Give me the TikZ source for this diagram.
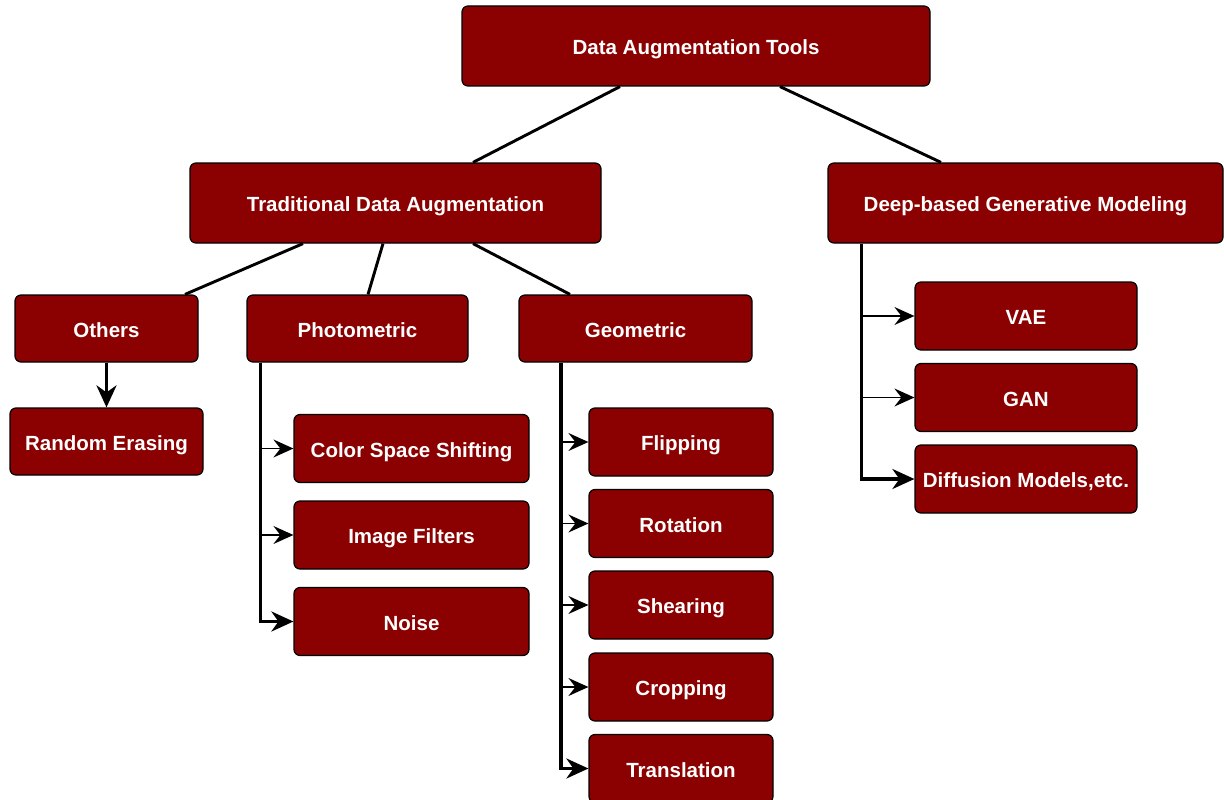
\documentclass[tikz,border=0pt]{standalone}
\usepackage{fontspec}
\setmainfont{Liberation Sans}
\usetikzlibrary{arrows.meta}
\definecolor{boxred}{RGB}{139,0,0}

\begin{document}
\begin{tikzpicture}[x=1pt, y=-1pt,
  box/.style={draw=black, line width=1.2pt, fill=boxred, rounded corners=6pt,
    text=white, font=\fontsize{20.5}{24}\selectfont\bfseries,
    inner sep=0pt, text height=17.2pt, text depth=0pt, align=center},
  big/.style={box, minimum height=80pt},
  small/.style={box, minimum height=68pt},
  link/.style={line width=2.9pt},
  trunk/.style={line width=3.2pt, -{Stealth[length=22pt, width=20pt, inset=7pt]}},
  twig/.style={line width=1.5pt, -{Stealth[length=20pt, width=18pt, inset=7pt]}},
]
\useasboundingbox (0,0) rectangle (1224,800);

% top levels
\node[big, minimum width=468pt] (root) at (696,46)    {Data Augmentation Tools};
\node[big, minimum width=411pt] (trad) at (395.5,203) {Traditional Data Augmentation};
\node[big, minimum width=395pt] (deep) at (1025.5,203) {Deep-based Generative Modeling};

% traditional families
\node[small, minimum width=183pt, minimum height=67pt] (others) at (106.5,328.5) {Others};
\node[small, minimum width=221pt, minimum height=67pt] (photo)  at (357.5,328.5) {Photometric};
\node[small, minimum width=233pt, minimum height=67pt] (geo)    at (635.5,328.5) {Geometric};

% leaves
\node[small, minimum width=193pt, minimum height=67pt] (erase) at (106.5,441.5) {Random Erasing};

\node[small, minimum width=235pt] (cs)    at (411.5,448.5) {Color Space Shifting};
\node[small, minimum width=235pt] (filt)  at (411.5,535)   {Image Filters};
\node[small, minimum width=235pt] (noise) at (411.5,621.5) {Noise};

\node[small, minimum width=184pt] (flip)  at (681,442)   {Flipping};
\node[small, minimum width=184pt] (rot)   at (681,523.5) {Rotation};
\node[small, minimum width=184pt] (shear) at (681,605)   {Shearing};
\node[small, minimum width=184pt] (crop)  at (681,687)   {Cropping};
\node[small, minimum width=184pt] (trans) at (681,768.5) {Translation};

\node[small, minimum width=222pt] (vae)  at (1026,316)   {VAE};
\node[small, minimum width=222pt] (gan)  at (1026,397.5) {GAN};
\node[small, minimum width=222pt] (diff) at (1026,479)   {Diffusion Models,etc.};

% tree links
\draw[link] ([xshift=-76pt]root.south) -- ([xshift=77.5pt]trad.north);
\draw[link] ([xshift=84pt]root.south) -- ([xshift=-84.5pt]deep.north);
\draw[link] ([xshift=-92.5pt]trad.south) -- ([xshift=78.5pt]others.north);
\draw[link] ([xshift=-12.5pt]trad.south) -- ([xshift=10.5pt]photo.north);
\draw[link] ([xshift=77.5pt]trad.south) -- ([xshift=-65.5pt]geo.north);

\draw[trunk] (others.south) -- (erase.north);

% photometric branch
\coordinate (pt) at ([xshift=14pt]photo.south west);
\draw[trunk] (pt) |- (noise.west);
\draw[twig] (pt |- cs.west) -- (cs.west);
\draw[twig] (pt |- filt.west) -- (filt.west);

% geometric branch
\coordinate (gt) at ([xshift=42.5pt]geo.south west);
\draw[trunk] (gt) |- (trans.west);
\foreach \n in {flip, rot, shear, crop}
  \draw[twig] (gt |- \n.west) -- (\n.west);

% generative branch
\coordinate (dt) at ([xshift=34pt]deep.south west);
\draw[trunk] (dt) |- (diff.west);
\draw[twig] (dt |- vae.west) -- (vae.west);
\draw[twig] (dt |- gan.west) -- (gan.west);
\end{tikzpicture}
\end{document}
